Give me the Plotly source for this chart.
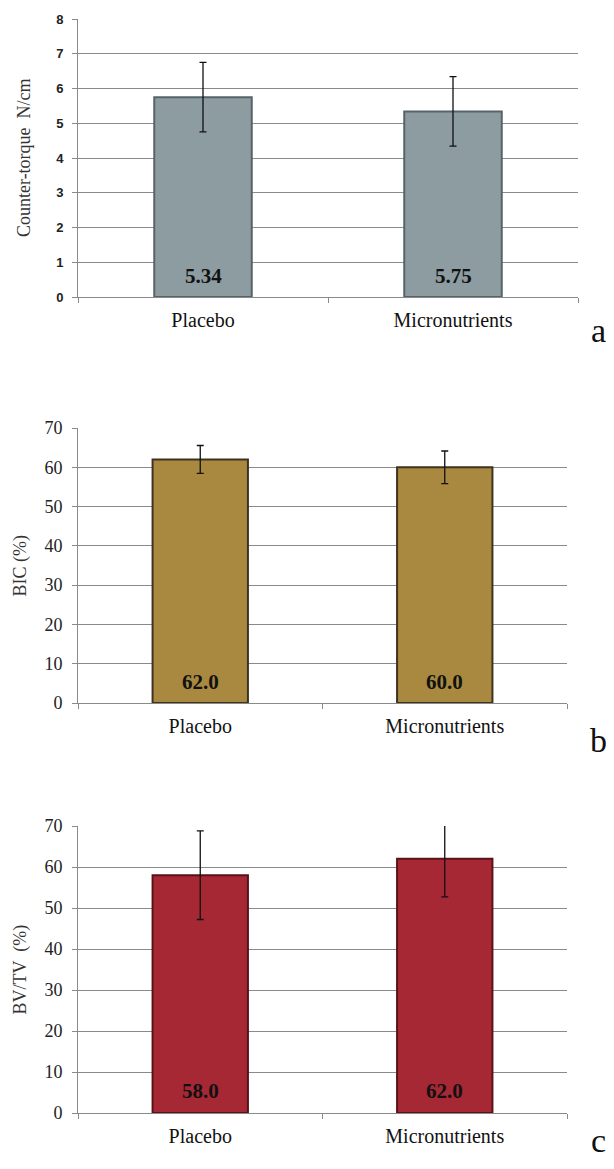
import plotly.graph_objects as go

categories = ["Placebo", "Micronutrients"]

torque_values = [5.75, 5.34]
torque_errors = [1.0, 1.0]
torque_labels = ["5.34", "5.75"]

bic_values = [62.0, 60.0]
bic_errors = [3.55, 4.15]
bic_labels = ["62.0", "60.0"]

bvtv_values = [58.0, 62.0]
bvtv_errors = [10.8, 9.3]
bvtv_labels = ["58.0", "62.0"]

PAGE_W, PAGE_H = 614, 1169
OFF = 8  # default body margin of the html page
W, H = PAGE_W - 2 * OFF, PAGE_H - 2 * OFF
SERIF = "Liberation Serif, Times New Roman, serif"
SANS = "Liberation Sans, Arial, sans-serif"


def fx(px):
    return (px - OFF) / W


def fy(py):
    return 1 - (py - OFF) / H


panels = [
    dict(vals=torque_values, errs=torque_errors, labels=torque_labels,
         color="#8C9CA1", edge="#56646A", ymax=8, dtick=1,
         title="Counter-torque  N/cm", letter="a", title_x=24, letter_y=330,
         px_x=(78, 578), px_y=(19, 297),
         tickfont=dict(family=SANS, size=13, color="#222", weight="bold")),
    dict(vals=bic_values, errs=bic_errors, labels=bic_labels,
         color="#A8893F", edge="#3E3320", ymax=70, dtick=10,
         title="BIC (%)", letter="b", title_x=20, letter_y=740,
         px_x=(78, 567), px_y=(428, 703),
         tickfont=dict(family=SERIF, size=18, color="#222")),
    dict(vals=bvtv_values, errs=bvtv_errors, labels=bvtv_labels,
         color="#A52834", edge="#5A1219", ymax=70, dtick=10,
         title="BV/TV  (%)", letter="c", title_x=20, letter_y=None,
         px_x=(78, 567), px_y=(826, 1113),
         tickfont=dict(family=SERIF, size=18, color="#222")),
]

fig = go.Figure()
annotations = []
for i, p in enumerate(panels):
    n = "" if i == 0 else str(i + 1)
    xa, ya = "x" + n, "y" + n
    fig.add_trace(go.Bar(
        x=categories, y=p["vals"], xaxis=xa, yaxis=ya,
        marker=dict(color=p["color"], line=dict(color=p["edge"], width=2)),
        width=0.39,
        error_y=dict(type="data", array=p["errs"], visible=True,
                     color="#111", thickness=1.3, width=3.5),
        showlegend=False,
    ))
    x0, x1 = fx(p["px_x"][0]), fx(p["px_x"][1])
    y1, y0 = fy(p["px_y"][0]), fy(p["px_y"][1])
    fig.layout["xaxis" + n] = dict(
        domain=[x0, x1], anchor=ya, type="category", automargin=False,
        showline=True, linecolor="#8a8a8a", linewidth=1,
        ticks="outside", tickson="boundaries", ticklen=5, tickcolor="#8a8a8a",
        ticklabelstandoff=5,
        tickfont=dict(family=SERIF, size=20, color="#111"),
        showgrid=False, fixedrange=True,
    )
    fig.layout["yaxis" + n] = dict(
        domain=[y0, y1], anchor=xa, range=[0, p["ymax"]], dtick=p["dtick"],
        automargin=False,
        showline=True, linecolor="#8a8a8a", linewidth=1,
        ticks="outside", ticklen=5, tickcolor="#8a8a8a",
        ticklabelstandoff=6,
        showgrid=True, gridcolor="#8a8a8a", gridwidth=1,
        tickfont=p["tickfont"],
        zeroline=False, fixedrange=True,
    )
    annotations.append(dict(
        x=fx(p["title_x"]), y=(y0 + y1) / 2, xref="paper", yref="paper",
        text=p["title"], textangle=-90, showarrow=False,
        xanchor="center", yanchor="middle",
        font=dict(family=SERIF, size=18, color="#333"),
    ))
    for c, lab in zip(categories, p["labels"]):
        annotations.append(dict(
            x=c, y=p["ymax"] * 0.075, xref=xa, yref=ya, text="<b>" + lab + "</b>",
            showarrow=False, font=dict(family=SERIF, size=21, color="#111"),
        ))
    if p["letter_y"] is None:
        letter_pos = dict(y=0, yanchor="bottom")
    else:
        letter_pos = dict(y=fy(p["letter_y"]), yanchor="middle")
    annotations.append(dict(
        x=fx(598), xref="paper", yref="paper",
        text=p["letter"], showarrow=False, xanchor="center",
        font=dict(family=SERIF, size=34, color="#111"), **letter_pos,
    ))

fig.update_layout(
    width=W, height=H,
    margin=dict(l=0, r=0, t=0, b=0),
    paper_bgcolor="white", plot_bgcolor="white",
    annotations=annotations,
    bargap=0.2,
)

fig.write_html("out.html")
